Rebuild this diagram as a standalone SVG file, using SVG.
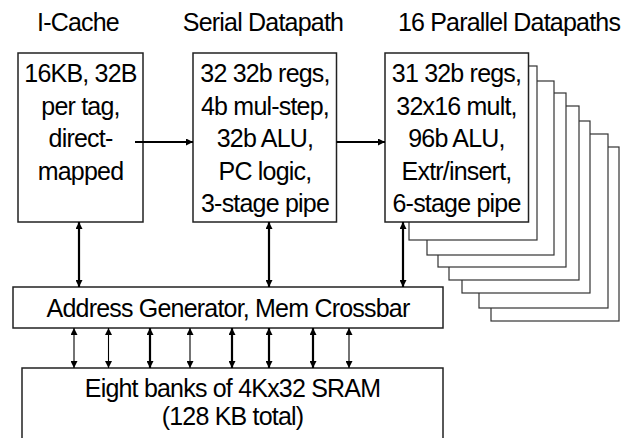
<svg xmlns="http://www.w3.org/2000/svg" width="635" height="438" viewBox="0 0 635 438">
<style>
text{font-family:"Liberation Sans",Arial,sans-serif;font-size:25px;fill:#000;text-anchor:middle;letter-spacing:-0.8px}
.box{fill:#fff;stroke:#222;stroke-width:1.5}
.back{fill:#fff;stroke:#333;stroke-width:1.2}
.thick{stroke:#000;stroke-width:2.2;fill:none}
.thin{stroke:#000;stroke-width:1.1;fill:none}
</style>
<defs>
<marker id="ah" viewBox="0 0 8 8" refX="8" refY="4" markerWidth="7" markerHeight="7" markerUnits="userSpaceOnUse" orient="auto-start-reverse">
<path d="M0,0 L8,4 L0,8 z" fill="#000"/>
</marker>
</defs>
<rect width="635" height="438" fill="#fff"/>
<g id="titles">
<text x="78" y="31">I-Cache</text>
<text x="263" y="31">Serial Datapath</text>
<text x="509" y="31">16 Parallel Datapaths</text>
</g>
<g id="icache">
<rect class="box" x="18" y="53" width="125" height="169"/>
<text x="80.5" y="82">16KB, 32B</text>
<text x="80.5" y="114.5">per tag,</text>
<text x="80.5" y="147">direct-</text>
<text x="80.5" y="179.5">mapped</text>
</g>
<g id="serial">
<rect class="box" x="193" y="53" width="143.5" height="169"/>
<text x="265" y="82">32 32b regs,</text>
<text x="265" y="114.5">4b mul-step,</text>
<text x="265" y="147">32b ALU,</text>
<text x="265" y="179.5">PC logic,</text>
<text x="265" y="212">3-stage pipe</text>
</g>
<g id="parallel">
<rect class="back" x="491" y="147" width="128" height="174"/>
<rect class="back" x="479" y="134" width="129" height="174"/>
<rect class="back" x="462" y="121" width="128" height="172"/>
<rect class="back" x="449" y="106" width="130" height="174"/>
<rect class="back" x="438" y="93" width="128" height="174"/>
<rect class="back" x="427" y="81" width="127" height="174"/>
<rect class="back" x="409" y="66" width="128" height="174"/>
<rect class="box" x="385" y="53" width="143.5" height="169"/>
<text x="456.5" y="82">31 32b regs,</text>
<text x="456.5" y="114.5">32x16 mult,</text>
<text x="456.5" y="147">96b ALU,</text>
<text x="456.5" y="179.5">Extr/insert,</text>
<text x="456.5" y="212">6-stage pipe</text>
</g>
<g id="addrgen">
<rect class="box" x="13" y="287" width="430" height="41"/>
<text x="228" y="316.5">Address Generator, Mem Crossbar</text>
</g>
<g id="sram">
<rect class="box" x="22" y="368" width="421" height="80"/>
<text x="232.5" y="397">Eight banks of 4Kx32 SRAM</text>
<text x="232.5" y="425">(128 KB total)</text>
</g>
<g id="connectors">
<line class="thick" x1="135" y1="142" x2="193" y2="142" marker-end="url(#ah)"/>
<line class="thick" x1="336.5" y1="142" x2="385" y2="142" marker-end="url(#ah)"/>
<line class="thick" x1="79" y1="222" x2="79" y2="287" marker-start="url(#ah)" marker-end="url(#ah)"/>
<line class="thick" x1="269" y1="222" x2="269" y2="287" marker-start="url(#ah)" marker-end="url(#ah)"/>
<line class="thick" x1="403" y1="222" x2="403" y2="287" marker-start="url(#ah)" marker-end="url(#ah)"/>
<line class="thin" x1="74" y1="328" x2="74" y2="368" marker-start="url(#ah)" marker-end="url(#ah)"/>
<line class="thin" x1="108.5" y1="328" x2="108.5" y2="368" marker-start="url(#ah)" marker-end="url(#ah)"/>
<line class="thick" x1="150" y1="328" x2="150" y2="368" marker-start="url(#ah)" marker-end="url(#ah)"/>
<line class="thin" x1="190" y1="328" x2="190" y2="368" marker-start="url(#ah)" marker-end="url(#ah)"/>
<line class="thick" x1="232" y1="328" x2="232" y2="368" marker-start="url(#ah)" marker-end="url(#ah)"/>
<line class="thick" x1="269" y1="328" x2="269" y2="368" marker-start="url(#ah)" marker-end="url(#ah)"/>
<line class="thick" x1="313" y1="328" x2="313" y2="368" marker-start="url(#ah)" marker-end="url(#ah)"/>
<line class="thin" x1="349" y1="328" x2="349" y2="368" marker-start="url(#ah)" marker-end="url(#ah)"/>
</g>
</svg>
